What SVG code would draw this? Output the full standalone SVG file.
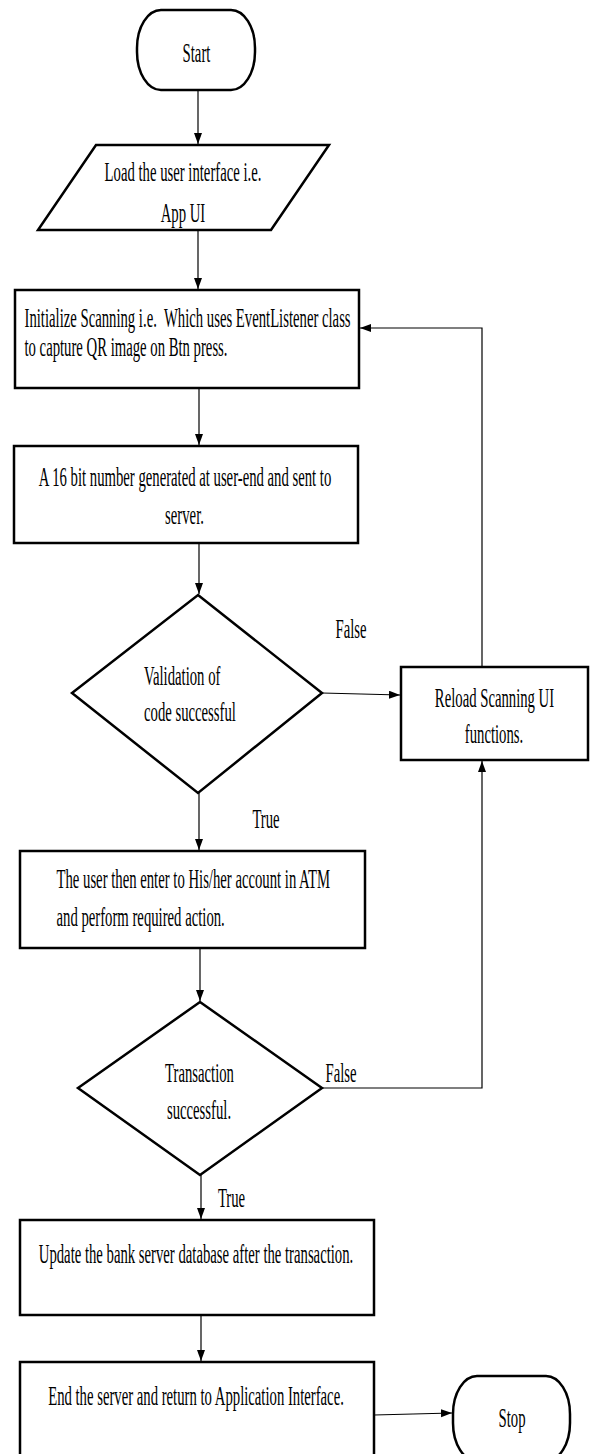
<svg xmlns="http://www.w3.org/2000/svg" width="590" height="1454" viewBox="0 0 590 1454">
<defs>
<style>
.n{fill:#fff;stroke:#000;stroke-width:2.5}
.c{fill:none;stroke:#000;stroke-width:1.2}
text{font-family:"Liberation Serif","Times New Roman",serif;font-size:27px;fill:#000}
.m{text-anchor:middle}
.s{text-anchor:start}
.p{white-space:pre}
</style>
<marker id="ah" markerUnits="userSpaceOnUse" markerWidth="12" markerHeight="10" refX="11" refY="4" orient="auto">
<path d="M0,0 L11,4 L0,8 z" fill="#000"/>
</marker>
</defs>
<rect width="590" height="1454" fill="#fff"/>
<g id="connectors">
<path class="c" d="M198,90 V144" marker-end="url(#ah)"/>
<path class="c" d="M198,230 V289" marker-end="url(#ah)"/>
<path class="c" d="M199,388 V445" marker-end="url(#ah)"/>
<path class="c" d="M199,543 V594" marker-end="url(#ah)"/>
<path class="c" d="M199,793 V850" marker-end="url(#ah)"/>
<path class="c" d="M200,948 V1001" marker-end="url(#ah)"/>
<path class="c" d="M201,1175 V1219" marker-end="url(#ah)"/>
<path class="c" d="M201,1315 V1361" marker-end="url(#ah)"/>
<path class="c" d="M322,693 L400,695" marker-end="url(#ah)"/>
<path class="c" d="M482,667 V328 H360" marker-end="url(#ah)"/>
<path class="c" d="M322,1088 H482 V761" marker-end="url(#ah)"/>
<path class="c" d="M374,1415 L452,1413" marker-end="url(#ah)"/>
</g>
<g id="start">
<rect class="n" x="137" y="10" width="118" height="80" rx="24" ry="38"/>
<text class="m" transform="translate(196.5,62) scale(0.545,1)">Start</text>
</g>
<g id="load">
<polygon class="n" points="96,145 329,145 271,230 38,230"/>
<text class="m" transform="translate(183,181) scale(0.545,1)">Load the user interface i.e.</text>
<text class="m" transform="translate(183,222) scale(0.545,1)">App UI</text>
</g>
<g id="init">
<rect class="n" x="15" y="290" width="344" height="98"/>
<text class="s p" transform="translate(24.5,327) scale(0.545,1)">Initialize Scanning i.e.  Which uses EventListener class</text>
<text class="s" transform="translate(24.5,356) scale(0.545,1)">to capture QR image on Btn press.</text>
</g>
<g id="generate">
<rect class="n" x="14" y="446" width="344" height="97"/>
<text class="m" transform="translate(185,486) scale(0.545,1)">A 16 bit number generated at user-end and sent to</text>
<text class="m" transform="translate(184.5,524) scale(0.545,1)">server.</text>
</g>
<g id="validate">
<polygon class="n" points="198,595 322,693 198,793 72,693"/>
<text class="s" transform="translate(144,685) scale(0.545,1)">Validation of</text>
<text class="s" transform="translate(144,721) scale(0.545,1)">code successful</text>
</g>
<g id="reload">
<rect class="n" x="401" y="667" width="187" height="93"/>
<text class="m" transform="translate(494.5,707) scale(0.545,1)">Reload Scanning UI</text>
<text class="m" transform="translate(494,743) scale(0.545,1)">functions.</text>
</g>
<g id="account">
<rect class="n" x="20" y="851" width="345" height="97"/>
<text class="s" transform="translate(56.5,888) scale(0.545,1)">The user then enter to His/her account in ATM</text>
<text class="s" transform="translate(56.5,926) scale(0.545,1)">and perform required action.</text>
</g>
<g id="transaction">
<polygon class="n" points="200,1002 322,1088 200,1175 78,1088"/>
<text class="m" transform="translate(199.5,1082) scale(0.545,1)">Transaction</text>
<text class="m" transform="translate(199,1119) scale(0.545,1)">successful.</text>
</g>
<g id="update">
<rect class="n" x="20" y="1220" width="354" height="95"/>
<text class="m" transform="translate(196,1263) scale(0.545,1)">Update the bank server database after the transaction.</text>
</g>
<g id="end">
<rect class="n" x="20" y="1362" width="354" height="100"/>
<text class="m" transform="translate(196,1405) scale(0.545,1)">End the server and return to Application Interface.</text>
</g>
<g id="stop">
<rect class="n" x="453" y="1376" width="117" height="85" rx="24" ry="38"/>
<text class="m" transform="translate(512,1427) scale(0.545,1)">Stop</text>
</g>
<g id="labels">
<text class="m" transform="translate(351,638) scale(0.545,1)">False</text>
<text class="m" transform="translate(266,828) scale(0.545,1)">True</text>
<text class="m" transform="translate(341,1082) scale(0.545,1)">False</text>
<text class="m" transform="translate(231.5,1207) scale(0.545,1)">True</text>
</g>
</svg>
